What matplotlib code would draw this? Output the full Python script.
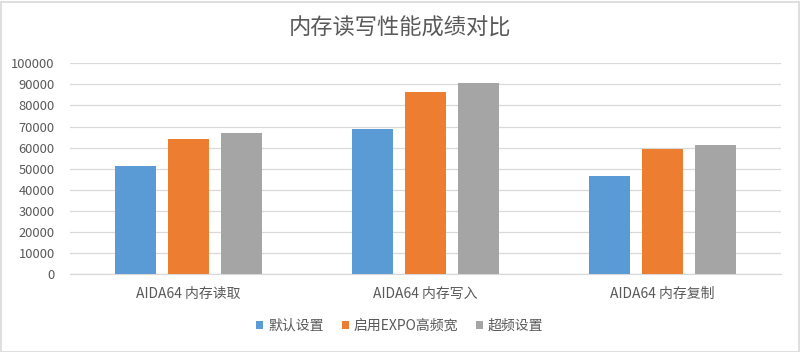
import matplotlib
matplotlib.use("Agg")
import matplotlib.pyplot as plt
from matplotlib.patches import Rectangle
import numpy as np

plt.rcParams['font.family'] = ['Noto Sans CJK SC', 'DejaVu Sans']

categories = ["AIDA64 内存读取", "AIDA64 内存写入", "AIDA64 内存复制"]
series_names = ["默认设置", "启用EXPO高频宽", "超频设置"]
default_vals = [51400, 69000, 46300]
expo_vals = [63900, 86200, 59300]
oc_vals = [67100, 90500, 61100]
yticks = list(range(0, 100001, 10000))

colors = ["#5B9BD5", "#ED7D31", "#A5A5A5"]
text_color = "#595959"
grid_color = "#D9D9D9"

fig = plt.figure(figsize=(8, 3.52), dpi=100)
ax = fig.add_axes([70/800, 78/352, 711/800, 210.7/352])

x = np.arange(len(categories))
width = 0.173
offset = 0.224
series = [default_vals, expo_vals, oc_vals]
handles = []
for i, (vals, name, c) in enumerate(zip(series, series_names, colors)):
    b = ax.bar(x + (i - 1) * offset, vals, width, color=c, label=name, zorder=3)
    handles.append(b)

ax.set_xlim(-0.5, len(categories) - 0.5)
ax.set_ylim(0, 100000)
ax.set_yticks(yticks)
ax.set_yticklabels([str(v) for v in yticks])
ax.set_xticks(x)
ax.set_xticklabels(categories)
ax.yaxis.grid(True, color=grid_color, linewidth=0.9, zorder=0)
for s in ["top", "right", "left"]:
    ax.spines[s].set_visible(False)
ax.spines["bottom"].set_color(grid_color)
ax.spines["bottom"].set_linewidth(0.9)
ax.tick_params(axis="y", length=0, pad=11, labelsize=9.3, labelcolor=text_color)
ax.tick_params(axis="x", length=0, pad=9, labelsize=10, labelcolor=text_color)

fig.text(0.5, 1 - 28/352, "内存读写性能成绩对比", ha="center", va="center",
         fontsize=16, color=text_color)

leg = fig.legend(handles=handles, labels=series_names, loc="center",
                 bbox_to_anchor=(0.5, 1 - 326/352), ncol=3, frameon=False,
                 fontsize=10, handlelength=0.5, handleheight=0.5,
                 handletextpad=0.35, columnspacing=1.3)
for t in leg.get_texts():
    t.set_color(text_color)

fig.patches.append(Rectangle((0.5/800, 0.5/352), 798/800, 350/352,
                             transform=fig.transFigure, fill=False,
                             edgecolor=grid_color, linewidth=1.2))

fig.savefig("out.png", dpi=100)
